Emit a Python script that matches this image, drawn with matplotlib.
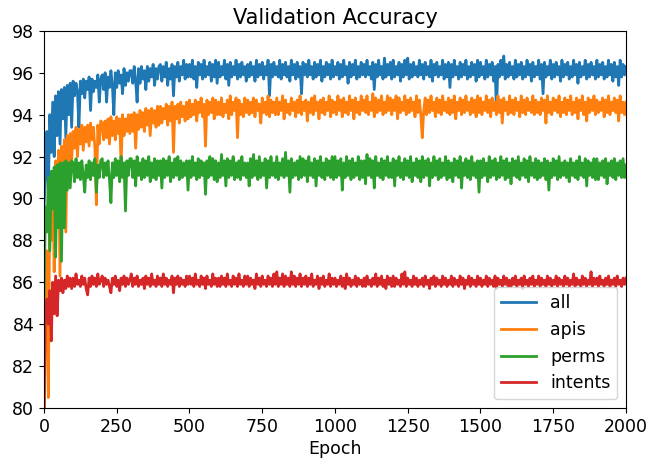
import matplotlib
matplotlib.use("Agg")
import matplotlib.pyplot as plt

plt.rcParams["path.simplify"] = False

epochs = list(range(0, 2001, 5))

acc_all = [
    89.6, 91.0, 93.2, 90.5, 94.0, 92.2, 94.6, 92.0, 94.9, 93.0, 95.1, 92.6, 95.2, 93.8, 95.3, 92.9, 95.4, 94.0, 95.5, 93.4,
    95.6, 94.9, 95.5, 95.1, 93.4, 95.6, 95.0, 95.7, 94.8, 95.6, 95.2, 95.8, 94.2, 95.7, 95.1, 95.6, 95.3, 95.9, 94.6, 95.7,
    95.9, 95.2, 96.0, 94.6, 95.8, 95.3, 96.1, 95.4, 94.0, 96.0, 95.3, 96.1, 95.5, 95.9, 95.0, 96.2, 95.4, 96.0, 95.6, 96.1,
    96.1, 95.5, 96.3, 95.6, 94.6, 96.2, 95.5, 96.3, 95.7, 96.1, 95.2, 96.3, 95.6, 96.2, 95.8, 96.4, 95.4, 96.2, 95.7, 96.3,
    96.4, 95.6, 96.3, 95.8, 96.5, 95.4, 96.2, 95.7, 96.4, 94.9, 96.3, 95.8, 96.5, 95.6, 96.3, 95.9, 96.6, 95.7, 96.4, 95.8,
    96.4, 95.8, 96.6, 95.7, 96.3, 95.3, 96.5, 95.9, 96.4, 95.7, 96.6, 95.8, 96.3, 95.9, 96.5, 95.6, 96.4, 95.8, 96.6, 95.5,
    96.5, 95.8, 96.3, 95.9, 96.6, 95.7, 96.4, 95.4, 96.5, 95.8, 96.3, 95.9, 96.6, 95.7, 96.4, 95.8, 96.5, 95.9, 96.3, 95.6,
    96.4, 95.8, 96.5, 95.9, 96.3, 95.6, 96.6, 95.8, 96.4, 95.9, 96.5, 95.7, 96.3, 95.9, 96.6, 94.9, 96.4, 95.8, 96.5, 95.9,
    96.3, 95.8, 96.6, 95.7, 96.4, 95.9, 96.5, 95.8, 96.3, 95.6, 96.6, 95.9, 96.4, 95.7, 96.5, 95.8, 96.3, 95.0, 96.5, 95.9,
    96.4, 95.8, 96.6, 95.9, 96.3, 95.7, 96.5, 95.8, 96.4, 95.9, 96.6, 95.6, 96.3, 95.8, 96.5, 95.9, 96.4, 95.7, 96.6, 95.8,
    96.3, 95.9, 96.5, 95.7, 96.4, 95.8, 96.6, 95.9, 96.3, 95.5, 96.5, 95.8, 96.4, 95.9, 96.6, 95.7, 96.3, 95.8, 96.5, 95.9,
    96.4, 95.8, 96.6, 95.9, 96.3, 95.7, 96.5, 95.2, 96.4, 95.8, 96.6, 95.9, 96.3, 95.7, 96.7, 95.8, 96.4, 95.9, 96.5, 95.7,
    96.6, 95.8, 96.3, 95.9, 96.5, 95.6, 96.4, 95.8, 96.6, 95.9, 96.7, 95.7, 96.4, 95.8, 96.5, 95.9, 96.3, 95.8, 96.6, 95.9,
    96.4, 95.7, 96.5, 95.9, 96.3, 95.8, 96.6, 95.6, 96.4, 95.9, 96.5, 95.8, 96.3, 95.9, 96.6, 95.7, 96.4, 95.8, 96.5, 95.3,
    96.4, 95.8, 96.6, 95.9, 96.3, 95.7, 96.5, 95.8, 96.4, 95.9, 96.6, 95.7, 96.3, 95.8, 96.5, 95.9, 96.4, 95.6, 96.6, 95.8,
    96.5, 95.9, 96.3, 95.7, 96.6, 95.8, 96.4, 95.9, 96.5, 95.6, 96.3, 94.2, 96.4, 95.8, 96.6, 95.9, 96.8, 95.7, 96.4, 95.8,
    96.5, 95.9, 96.3, 95.7, 96.6, 95.8, 96.4, 95.9, 96.5, 95.7, 96.3, 95.8, 96.6, 95.9, 96.4, 95.6, 96.5, 95.8, 96.3, 95.9,
    96.6, 95.7, 96.4, 95.0, 96.5, 95.8, 96.3, 95.9, 96.6, 95.7, 96.4, 95.8, 96.5, 95.9, 96.3, 95.6, 96.6, 95.8, 96.4, 95.9,
    96.5, 95.7, 96.3, 95.8, 96.6, 95.9, 96.4, 95.5, 96.5, 95.8, 96.3, 95.9, 96.6, 95.7, 96.4, 95.8, 96.5, 95.9, 96.3, 95.7,
    96.6, 95.8, 96.4, 95.9, 96.5, 95.7, 96.3, 95.8, 96.6, 95.9, 96.4, 95.6, 96.5, 95.8, 96.3, 95.4, 96.6, 95.8, 96.4, 95.9,
    96.3,
]

acc_apis = [
    78.0, 84.0, 87.5, 80.5, 90.5, 88.0, 91.3, 86.5, 91.8, 89.5, 92.3, 86.3, 92.5, 90.2, 92.8, 88.4, 93.0, 91.4, 93.1, 91.8,
    93.2, 92.4, 93.4, 92.0, 93.3, 92.6, 93.5, 92.3, 93.4, 92.7, 93.5, 92.5, 93.6, 92.8, 93.4, 92.4, 89.7, 93.5, 92.6, 93.7,
    93.6, 92.8, 93.7, 92.9, 93.8, 92.6, 93.9, 93.0, 93.7, 92.8, 93.9, 93.1, 93.8, 91.6, 94.0, 93.0, 93.8, 93.2, 94.0, 93.1,
    94.0, 93.2, 94.1, 92.4, 94.0, 93.3, 94.2, 93.4, 94.1, 93.2, 94.3, 93.5, 94.2, 93.0, 94.3, 93.6, 94.2, 93.4, 94.4, 93.5,
    94.4, 93.6, 94.3, 93.8, 94.5, 93.5, 94.4, 93.7, 94.6, 92.2, 94.4, 93.8, 94.5, 93.6, 94.6, 93.9, 94.4, 93.7, 94.6, 93.8,
    94.7, 93.9, 94.5, 94.0, 94.7, 93.7, 94.6, 94.1, 94.8, 93.9, 94.5, 92.5, 94.7, 94.0, 94.6, 94.1, 94.8, 93.8, 94.7, 94.0,
    94.6, 94.0, 94.8, 93.9, 94.5, 94.1, 94.7, 93.8, 94.9, 94.0, 94.6, 94.2, 94.8, 92.9, 94.7, 94.0, 94.5, 93.9, 94.8, 94.1,
    94.7, 94.0, 94.6, 94.1, 94.8, 93.9, 94.7, 94.2, 94.5, 93.6, 94.8, 94.1, 94.6, 94.0, 94.9, 93.9, 94.7, 94.1, 94.6, 94.0,
    94.8, 94.0, 94.6, 94.2, 94.9, 93.8, 94.7, 94.1, 94.5, 94.0, 94.8, 94.2, 94.6, 93.9, 94.7, 94.1, 94.9, 94.0, 94.6, 94.2,
    94.7, 93.7, 94.6, 94.1, 94.8, 94.0, 94.9, 94.2, 94.6, 93.8, 94.7, 94.1, 94.8, 94.0, 94.6, 94.2, 94.9, 93.9, 94.7, 94.1,
    94.6, 94.0, 94.9, 94.2, 94.7, 93.9, 94.8, 94.1, 94.6, 94.0, 94.9, 94.2, 94.7, 93.8, 94.8, 94.1, 94.6, 94.0, 94.9, 94.2,
    94.7, 94.1, 94.9, 94.0, 94.6, 94.2, 95.0, 93.9, 94.8, 94.1, 94.7, 94.2, 94.9, 94.0, 94.6, 94.1, 94.9, 94.2, 94.8, 94.0,
    94.7, 94.2, 94.9, 93.8, 94.8, 94.1, 94.6, 94.2, 94.9, 94.0, 94.7, 94.1, 94.8, 94.2, 94.6, 93.9, 94.9, 94.1, 94.7, 94.0,
    92.9, 94.2, 94.8, 94.0, 94.7, 94.1, 94.9, 94.2, 94.6, 93.9, 94.8, 94.1, 94.7, 94.0, 94.9, 94.2, 94.6, 94.1, 94.8, 94.0,
    94.7, 94.1, 94.9, 93.8, 94.6, 94.2, 94.8, 94.0, 94.7, 94.1, 94.9, 94.2, 94.6, 94.0, 94.8, 94.1, 94.7, 93.9, 94.9, 94.1,
    94.8, 94.0, 94.6, 94.2, 94.9, 94.1, 94.7, 93.9, 94.8, 94.2, 94.6, 94.0, 94.9, 94.1, 94.7, 93.6, 94.8, 94.2, 94.6, 94.0,
    94.9, 94.1, 94.7, 94.0, 94.8, 94.2, 94.6, 93.9, 94.9, 94.1, 94.7, 94.0, 94.8, 94.2, 94.6, 94.1, 94.9, 94.0, 94.7, 94.1,
    94.6, 94.0, 94.8, 94.2, 94.7, 93.6, 94.9, 94.1, 94.6, 94.0, 94.8, 94.2, 94.7, 94.1, 94.9, 93.9, 94.6, 94.1, 94.8, 94.0,
    94.7, 94.2, 94.9, 94.0, 94.6, 94.1, 94.8, 93.8, 94.7, 94.2, 94.9, 94.0, 94.6, 93.7, 94.8, 94.1, 94.7, 94.2, 94.9, 94.0,
    94.7, 94.1, 94.6, 94.2, 94.8, 93.9, 94.7, 94.1, 94.9, 94.0, 94.6, 94.2, 94.8, 94.1, 94.7, 93.7, 94.9, 94.1, 94.6, 94.0,
    94.6,
]

acc_perms = [
    85.3, 89.6, 88.4, 91.0, 87.5, 91.3, 89.5, 91.5, 87.2, 91.6, 88.6, 91.7, 87.0, 91.7, 88.6, 91.8, 90.4, 91.7, 90.5, 91.8,
    91.7, 90.8, 91.9, 91.0, 91.7, 90.9, 91.8, 91.1, 90.3, 91.6, 91.0, 91.8, 90.9, 91.7, 91.1, 91.9, 90.3, 91.6, 91.0, 91.8,
    91.9, 91.0, 91.7, 91.1, 91.8, 90.9, 89.8, 91.7, 91.0, 91.9, 91.1, 91.8, 90.8, 92.0, 91.0, 91.7, 89.4, 91.8, 91.1, 91.9,
    91.9, 91.0, 91.8, 90.6, 92.0, 91.1, 91.7, 90.9, 91.9, 91.0, 91.8, 91.1, 92.0, 90.8, 91.7, 91.0, 91.9, 90.9, 91.8, 91.1,
    91.8, 90.5, 91.9, 91.0, 91.8, 91.1, 92.0, 90.8, 91.7, 91.0, 91.9, 91.1, 92.0, 90.9, 91.8, 91.0, 91.7, 91.1, 91.8, 90.4,
    91.8, 91.0, 92.0, 91.1, 91.7, 90.9, 91.9, 91.0, 91.8, 91.1, 91.7, 90.2, 91.8, 91.0, 92.0, 91.1, 91.9, 90.9, 91.8, 90.8,
    91.7, 91.0, 92.1, 91.1, 91.8, 90.6, 91.9, 91.0, 91.8, 91.1, 92.0, 90.9, 91.7, 91.0, 91.8, 90.9, 92.0, 91.1, 91.7, 91.0,
    91.7, 90.6, 91.9, 91.0, 92.1, 91.1, 91.8, 90.9, 92.0, 91.0, 91.7, 91.1, 91.9, 90.5, 91.8, 91.0, 92.0, 91.1, 91.7, 91.0,
    92.0, 90.9, 91.7, 91.1, 91.9, 91.0, 92.2, 91.1, 91.8, 90.3, 91.9, 91.0, 91.7, 91.1, 91.8, 90.9, 92.0, 91.0, 91.9, 91.1,
    91.8, 90.8, 92.0, 91.1, 91.7, 91.0, 91.9, 90.6, 91.8, 91.1, 92.0, 91.0, 91.7, 90.9, 91.9, 91.1, 91.8, 91.0, 92.0, 90.9,
    92.0, 91.0, 91.8, 91.1, 91.9, 90.4, 91.7, 91.0, 92.0, 91.1, 91.8, 90.9, 91.9, 91.0, 91.7, 91.1, 92.0, 90.9, 91.8, 91.0,
    91.8, 90.7, 92.1, 91.1, 91.9, 91.0, 91.8, 90.5, 92.0, 91.1, 91.7, 91.0, 91.9, 90.9, 91.8, 91.1, 92.0, 91.0, 91.7, 91.0,
    91.9, 90.6, 91.8, 91.1, 92.0, 91.0, 91.7, 90.9, 91.9, 91.1, 91.8, 91.0, 92.0, 90.8, 91.7, 91.1, 91.9, 91.0, 91.8, 90.8,
    92.0, 91.0, 91.8, 91.1, 91.9, 90.6, 91.7, 91.0, 92.0, 91.1, 91.8, 90.9, 91.9, 91.0, 91.7, 91.1, 92.0, 90.9, 91.8, 91.0,
    91.7, 90.8, 91.9, 91.1, 91.8, 91.0, 92.0, 90.5, 91.7, 91.1, 91.9, 91.0, 91.8, 90.9, 92.0, 91.1, 91.7, 91.0, 91.8, 90.3,
    91.8, 91.0, 91.9, 91.1, 91.7, 90.8, 92.0, 91.0, 91.8, 91.1, 91.9, 90.9, 91.7, 91.0, 92.0, 91.1, 91.8, 90.9, 91.9, 91.0,
    91.7, 90.7, 91.9, 91.1, 91.8, 91.0, 92.0, 90.9, 91.7, 91.1, 91.9, 91.0, 91.8, 90.8, 92.0, 91.1, 91.7, 91.0, 91.9, 90.9,
    91.8, 91.0, 91.7, 91.1, 91.9, 90.9, 91.8, 90.4, 91.7, 91.0, 91.9, 91.1, 91.8, 90.9, 92.0, 91.0, 91.7, 91.1, 91.8, 91.0,
    91.7, 90.8, 91.9, 91.1, 91.7, 91.0, 91.8, 90.9, 92.0, 91.1, 91.7, 91.0, 91.9, 90.6, 91.8, 91.1, 91.7, 91.0, 91.9, 90.9,
    91.9, 90.9, 91.7, 91.1, 91.8, 91.0, 91.9, 90.7, 91.7, 91.1, 91.8, 91.0, 91.9, 90.9, 91.7, 91.1, 91.8, 91.0, 91.9, 91.0,
    91.6,
]

acc_intents = [
    79.5, 84.8, 85.2, 84.0, 85.6, 83.2, 86.0, 84.5, 86.3, 84.4, 86.1, 85.6, 86.2, 85.5, 86.1, 85.7, 86.3, 85.8, 86.2, 85.7,
    86.2, 85.8, 86.4, 85.9, 86.1, 85.8, 86.3, 85.9, 86.2, 85.7, 85.4, 86.2, 85.8, 86.3, 85.9, 86.2, 85.8, 86.4, 85.9, 86.1,
    86.3, 85.8, 86.2, 85.9, 86.1, 85.8, 85.5, 86.2, 85.9, 86.3, 85.8, 86.1, 85.6, 86.2, 85.9, 86.3, 85.8, 86.2, 85.9, 86.1,
    86.4, 85.8, 86.2, 85.9, 86.3, 85.8, 86.1, 85.9, 86.2, 85.7, 86.3, 85.9, 86.2, 85.8, 86.4, 85.9, 86.1, 85.8, 86.3, 85.9,
    86.2, 85.8, 86.4, 85.9, 86.2, 85.8, 86.1, 85.9, 86.3, 85.5, 86.2, 85.9, 86.3, 85.8, 86.2, 85.9, 86.1, 85.8, 86.3, 85.9,
    86.3, 85.9, 86.2, 85.8, 86.4, 85.9, 86.1, 85.8, 86.3, 85.9, 86.2, 85.7, 86.3, 85.9, 86.1, 85.8, 86.4, 85.9, 86.2, 85.8,
    86.2, 85.8, 86.3, 85.9, 86.2, 85.8, 86.4, 85.9, 86.1, 85.8, 86.3, 85.9, 86.2, 85.8, 86.4, 85.9, 86.1, 85.8, 86.3, 85.9,
    86.3, 85.8, 86.2, 85.9, 86.1, 85.7, 86.4, 85.9, 86.2, 85.8, 86.3, 85.9, 86.1, 85.8, 86.3, 85.9, 86.2, 85.8, 86.4, 85.9,
    86.5, 85.8, 86.2, 85.9, 86.4, 85.8, 86.3, 85.9, 86.2, 85.8, 86.5, 85.9, 86.3, 85.8, 86.2, 85.9, 86.4, 85.8, 86.2, 85.9,
    86.3, 85.8, 86.2, 85.9, 86.4, 85.8, 86.1, 85.9, 86.3, 85.7, 86.2, 85.9, 86.3, 85.8, 86.1, 85.9, 86.4, 85.8, 86.2, 85.9,
    86.2, 85.8, 86.1, 85.9, 86.3, 85.8, 86.2, 85.7, 86.4, 85.9, 86.2, 85.8, 86.1, 85.9, 86.3, 85.8, 86.2, 85.9, 86.1, 85.8,
    86.2, 85.8, 86.3, 85.9, 86.1, 85.8, 86.2, 85.9, 86.4, 85.8, 86.2, 85.9, 86.3, 85.8, 86.1, 85.7, 86.3, 85.9, 86.2, 85.8,
    86.3, 85.8, 86.2, 85.9, 86.1, 85.8, 86.4, 85.9, 86.5, 85.8, 86.2, 85.9, 86.1, 85.8, 86.3, 85.9, 86.2, 85.8, 86.1, 85.9,
    86.2, 85.8, 86.3, 85.9, 86.1, 85.7, 86.2, 85.9, 86.3, 85.8, 86.2, 85.9, 86.1, 85.8, 86.3, 85.9, 86.2, 85.8, 86.1, 85.9,
    86.3, 85.8, 86.2, 85.9, 86.1, 85.8, 86.3, 85.9, 86.2, 85.7, 86.1, 85.9, 86.3, 85.8, 86.2, 85.9, 86.1, 85.8, 86.3, 85.9,
    86.2, 85.8, 86.1, 85.9, 86.3, 85.8, 86.2, 85.9, 86.1, 85.8, 86.3, 85.7, 86.2, 85.9, 86.1, 85.8, 86.3, 85.9, 86.2, 85.8,
    86.1, 85.8, 86.2, 85.9, 86.3, 85.8, 86.1, 85.9, 86.2, 85.7, 86.3, 85.9, 86.1, 85.8, 86.2, 85.9, 86.3, 85.8, 86.1, 85.9,
    86.3, 85.8, 86.2, 85.9, 86.1, 85.8, 86.3, 85.9, 86.2, 85.8, 86.1, 85.9, 86.3, 85.8, 86.2, 85.9, 86.1, 85.8, 86.3, 85.9,
    86.2, 85.8, 86.1, 85.9, 86.4, 85.8, 86.2, 85.9, 86.1, 85.8, 86.3, 85.9, 86.2, 85.8, 86.1, 85.9, 86.5, 85.8, 86.2, 85.9,
    86.2, 85.8, 86.3, 85.9, 86.1, 85.8, 86.2, 85.9, 86.3, 85.8, 86.1, 85.9, 86.2, 85.8, 86.3, 85.9, 86.1, 85.8, 86.2, 85.9,
    86.2,
]

series_names = ["all", "apis", "perms", "intents"]
series_values = [acc_all, acc_apis, acc_perms, acc_intents]

fig = plt.figure(figsize=(6.47, 4.61), dpi=100)
ax = fig.add_axes([0.068, 0.115, 0.8995, 0.818])

for name, vals in zip(series_names, series_values):
    ax.plot(epochs, vals, label=name, linewidth=2.0)

ax.set_xlim(0, 2000)
ax.set_ylim(80, 98)
ax.set_xticks([0, 250, 500, 750, 1000, 1250, 1500, 1750, 2000])
ax.set_yticks([80, 82, 84, 86, 88, 90, 92, 94, 96, 98])
ax.set_title("Validation Accuracy", fontsize=15, pad=5)
ax.set_xlabel("Epoch", fontsize=12.5, labelpad=3)
ax.tick_params(labelsize=12.5)
ax.legend(loc="lower right", fontsize=12.5)

fig.savefig("out.png", dpi=100)
